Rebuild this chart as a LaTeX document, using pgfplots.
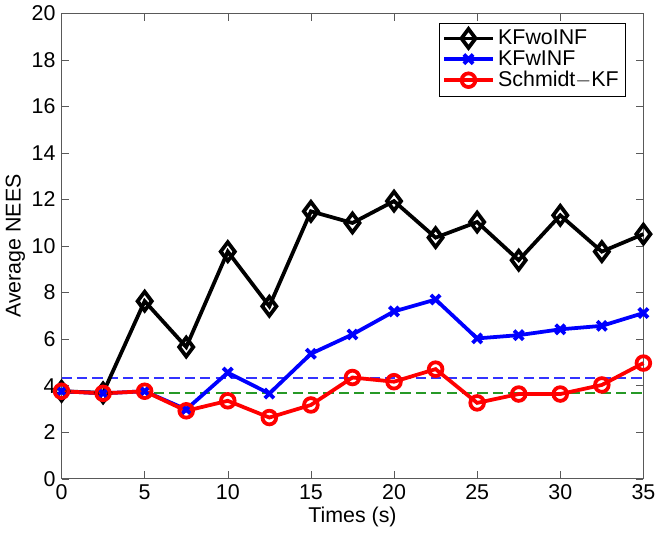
\documentclass[border=0pt]{standalone}
\usepackage{fontspec}
\setmainfont{Liberation Sans}
\usepackage{pgfplots}
\pgfplotsset{compat=1.18}
\definecolor{mgreen}{rgb}{0.15,0.6,0.15}
\definecolor{mblue}{rgb}{0.2,0.2,1}

\begin{document}
\begin{tikzpicture}
\begin{axis}[
    width=340pt, height=272pt,
    scale only axis,
    xmin=0, xmax=35, ymin=0, ymax=20,
    xtick={0,5,...,35}, ytick={0,2,...,20},
    tick align=inside,
    axis line style={gray!70!black},
    tick style={gray!70!black},
    /pgf/number format/assume math mode=true,
    ticklabel style={font=\fontsize{12.5}{13}\selectfont},
    label style={font=\fontsize{12.5}{13}\selectfont},
    xlabel={Times (s)},
    ylabel={Average NEES},
    xlabel style={yshift=3pt},
    ylabel style={yshift=-3pt},
    legend style={at={(0.97,0.98)}, anchor=north east, draw=black,
        font=\fontsize{12.5}{13}\selectfont, cells={anchor=west},
        inner sep=2pt, row sep=-2pt},
    legend cell align=left,
    legend image post style={line width=2.2pt},
    legend image code/.code={
        \draw[mark repeat=2,mark phase=2] plot coordinates {(0cm,0cm) (0.5cm,0cm) (1.0cm,0cm)};},
    clip=false,
]
% dashed bounds
\addplot[draw=mblue, dash pattern=on 6pt off 3pt, line width=0.9pt, forget plot] coordinates {(0,4.34) (35,4.34)};
\addplot[draw=mgreen, dash pattern=on 6pt off 3pt, line width=0.9pt, forget plot] coordinates {(0,3.68) (35,3.68)};

\addplot[black, line width=2.2pt, mark=diamond, mark size=5.5pt] coordinates {
    (0,3.76) (2.5,3.69) (5,7.63) (7.5,5.66) (10,9.76) (12.5,7.41) (15,11.49)
    (17.5,10.99) (20,11.93) (22.5,10.36) (25,11.03) (27.5,9.39) (30,11.32)
    (32.5,9.76) (35,10.51)
};
\addplot[blue, line width=2.2pt, mark=x, mark size=3.8pt] coordinates {
    (0,3.76) (2.5,3.67) (5,3.76) (7.5,2.98) (10,4.56) (12.5,3.66) (15,5.37)
    (17.5,6.2) (20,7.19) (22.5,7.7) (25,6.03) (27.5,6.17) (30,6.42)
    (32.5,6.57) (35,7.12)
};
\addplot[red, line width=2.2pt, mark=o, mark size=4pt] coordinates {
    (0,3.76) (2.5,3.67) (5,3.76) (7.5,2.92) (10,3.35) (12.5,2.63) (15,3.17)
    (17.5,4.35) (20,4.17) (22.5,4.71) (25,3.26) (27.5,3.64) (30,3.64)
    (32.5,4.03) (35,4.97)
};
\legend{KFwoINF, KFwINF, Schmidt$-$KF}
\end{axis}
\end{tikzpicture}
\end{document}
